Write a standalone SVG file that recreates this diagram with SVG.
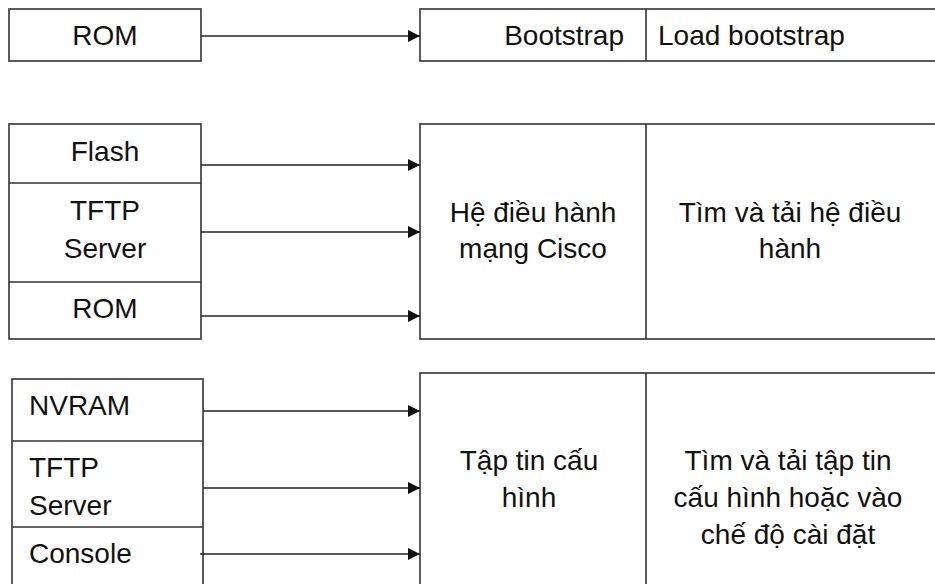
<svg xmlns="http://www.w3.org/2000/svg" width="935" height="584" viewBox="0 0 935 584">
<style>
.b{fill:#fff;stroke:#333;stroke-width:1.6}
.l{stroke:#333;stroke-width:1.6;fill:none}
.t{font-family:"Liberation Sans",Arial,sans-serif;font-size:28px;fill:#111}
.c{text-anchor:middle}
.r{text-anchor:end}
.a{stroke:#222;stroke-width:1.6;fill:none;marker-end:url(#ah)}
</style>
<defs>
<marker id="ah" markerWidth="12" markerHeight="12" refX="12" refY="6" orient="auto" markerUnits="userSpaceOnUse">
<path d="M0,0 L12,6 L0,12 Z" fill="#111"/>
</marker>
</defs>
<rect width="935" height="584" fill="#fff"/>
<g id="rom-top">
<rect class="b" x="9" y="9" width="192" height="52"/>
<text class="t c" x="105" y="45">ROM</text>
</g>
<g id="bootstrap">
<rect class="b" x="420" y="9" width="530" height="52"/>
<line class="l" x1="646" y1="9" x2="646" y2="61"/>
<text class="t r" x="624" y="45">Bootstrap</text>
<text class="t" x="658" y="45">Load bootstrap</text>
</g>
<g id="os-sources">
<rect class="b" x="9" y="124" width="192" height="215"/>
<line class="l" x1="9" y1="183" x2="201" y2="183"/>
<line class="l" x1="9" y1="282" x2="201" y2="282"/>
<text class="t c" x="105" y="161">Flash</text>
<text class="t c" x="105" y="220">TFTP</text>
<text class="t c" x="105" y="258">Server</text>
<text class="t c" x="105" y="318">ROM</text>
</g>
<g id="os">
<rect class="b" x="420" y="124" width="530" height="215"/>
<line class="l" x1="646" y1="124" x2="646" y2="339"/>
<text class="t c" x="533" y="222">Hệ điều hành</text>
<text class="t c" x="533" y="258">mạng Cisco</text>
<text class="t c" x="790" y="222">Tìm và tải hệ điều</text>
<text class="t c" x="790" y="258">hành</text>
</g>
<g id="cfg-sources">
<rect class="b" x="12" y="379" width="191" height="220"/>
<line class="l" x1="12" y1="441" x2="203" y2="441"/>
<line class="l" x1="12" y1="527" x2="203" y2="527"/>
<text class="t" x="29" y="415">NVRAM</text>
<text class="t" x="29" y="477">TFTP</text>
<text class="t" x="29" y="515">Server</text>
<text class="t" x="29" y="563">Console</text>
</g>
<g id="cfg">
<rect class="b" x="420" y="373" width="530" height="230"/>
<line class="l" x1="646" y1="373" x2="646" y2="600"/>
<text class="t c" x="529" y="470">Tập tin cấu</text>
<text class="t c" x="529" y="507">hình</text>
<text class="t c" x="788" y="470">Tìm và tải tập tin</text>
<text class="t c" x="788" y="507">cấu hình hoặc vào</text>
<text class="t c" x="788" y="544">chế độ cài đặt</text>
</g>
<g id="connectors">
<line class="a" x1="201" y1="36" x2="420" y2="36"/>
<line class="a" x1="201" y1="165" x2="420" y2="165"/>
<line class="a" x1="201" y1="232" x2="420" y2="232"/>
<line class="a" x1="201" y1="316" x2="420" y2="316"/>
<line class="a" x1="203" y1="411" x2="420" y2="411"/>
<line class="a" x1="203" y1="488" x2="420" y2="488"/>
<line class="a" x1="200" y1="554" x2="420" y2="554"/>
</g>
</svg>
